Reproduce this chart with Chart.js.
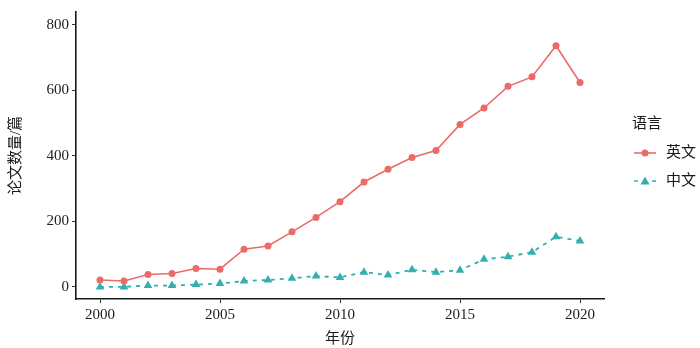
<!DOCTYPE html>
<html>
<head>
<meta charset="utf-8">
<script src="https://cdn.jsdelivr.net/npm/chart.js@4"></script>
<style>
html,body{margin:0;padding:0;background:#fff;}
#wrap{width:700px;height:348px;position:relative;}
</style>
</head>
<body>
<div id="wrap"><canvas id="c" width="700" height="348"></canvas></div>
<script>
const years = [2000,2001,2002,2003,2004,2005,2006,2007,2008,2009,2010,2011,2012,2013,2014,2015,2016,2017,2018,2019,2020];
const english = [21,18,38,41,56,54,115,125,168,212,260,320,359,395,416,496,546,612,641,736,624];
const chinese = [0,0,4,4,7,10,18,21,26,33,29,45,36,52,45,51,84,92,106,153,140];
const xTicks = [2000,2005,2010,2015,2020];
const yTicks = [0,200,400,600,800];
const seriesNames = ['英文','中文'];
const legendTitle = '语言';
const xTitle = '年份';
const yTitle = '论文数量/篇';

const RED = '#EC6A68';
const TEAL = '#33AFAE';
const FONT = "'Liberation Serif', 'Noto Sans CJK SC', serif";

const legendPlugin = {
  id: 'ggLegend',
  afterDraw(chart) {
    const ctx = chart.ctx;
    ctx.save();
    ctx.fillStyle = '#1a1a1a';
    ctx.textBaseline = 'middle';
    ctx.textAlign = 'left';
    ctx.font = "15px " + FONT;
    ctx.fillText(legendTitle, 632, 124);
    const items = chart.data.datasets;
    const ys = [153, 181];
    items.forEach((ds, i) => {
      const y = ys[i];
      ctx.strokeStyle = ds.borderColor;
      ctx.lineWidth = 1.6;
      ctx.setLineDash(ds.borderDash || []);
      ctx.beginPath();
      ctx.moveTo(634, y);
      ctx.lineTo(656, y);
      ctx.stroke();
      ctx.setLineDash([]);
      ctx.fillStyle = ds.pointBackgroundColor;
      if (ds.pointStyle === 'triangle') {
        ctx.beginPath();
        ctx.moveTo(645, y - 4.5);
        ctx.lineTo(649.5, y + 3.5);
        ctx.lineTo(640.5, y + 3.5);
        ctx.closePath();
        ctx.fill();
      } else {
        ctx.beginPath();
        ctx.arc(645, y, 3.5, 0, Math.PI * 2);
        ctx.fill();
      }
      ctx.fillStyle = '#1a1a1a';
      ctx.font = "15px " + FONT;
      ctx.fillText(ds.label, 666, y);
    });
    ctx.restore();
  }
};

new Chart(document.getElementById('c'), {
  type: 'line',
  data: {
    datasets: [
      {
        label: seriesNames[0],
        data: years.map((y, i) => ({x: y, y: english[i]})),
        borderColor: RED,
        backgroundColor: RED,
        pointBackgroundColor: RED,
        pointBorderColor: RED,
        borderWidth: 1.6,
        pointRadius: 3.5,
        pointBorderWidth: 0,
        pointStyle: 'circle',
        tension: 0
      },
      {
        label: seriesNames[1],
        data: years.map((y, i) => ({x: y, y: chinese[i]})),
        borderColor: TEAL,
        backgroundColor: TEAL,
        pointBackgroundColor: TEAL,
        pointBorderColor: TEAL,
        borderWidth: 1.8,
        borderDash: [4, 5],
        pointRadius: 5,
        pointBorderWidth: 0,
        pointStyle: 'triangle',
        tension: 0
      }
    ]
  },
  options: {
    responsive: false,
    animation: false,
    devicePixelRatio: 1,
    layout: {padding: {left: 0, right: 96, top: 9, bottom: 0}},
    plugins: {legend: {display: false}, tooltip: {enabled: false}},
    scales: {
      x: {
        type: 'linear',
        min: 1999,
        max: 2021,
        afterBuildTicks: (s) => { s.ticks = xTicks.map(v => ({value: v})); },
        afterFit: (s) => { s.height = 49; },
        grid: {display: true, drawOnChartArea: false, drawTicks: true, tickLength: 4, color: '#333', lineWidth: 1},
        border: {display: true, color: '#1a1a1a', width: 1.6},
        ticks: {color: '#222', font: {family: FONT, size: 15}, padding: 3, maxRotation: 0, callback: v => String(v)},
        title: {display: true, text: xTitle, color: '#1a1a1a', font: {family: FONT, size: 15}, padding: {top: 3, bottom: 0}}
      },
      y: {
        type: 'linear',
        min: -37,
        max: 839,
        afterBuildTicks: (s) => { s.ticks = yTicks.map(v => ({value: v})); },
        afterFit: (s) => { s.width = 76; },
        grid: {display: true, drawOnChartArea: false, drawTicks: true, tickLength: 4, color: '#333', lineWidth: 1},
        border: {display: true, color: '#1a1a1a', width: 1.6},
        ticks: {color: '#222', font: {family: FONT, size: 15}, padding: 3, callback: v => String(v)},
        title: {display: true, text: yTitle, color: '#1a1a1a', font: {family: FONT, size: 15}, padding: {top: 7, bottom: 0}}
      }
    }
  },
  plugins: [legendPlugin]
});
</script>
</body>
</html>
